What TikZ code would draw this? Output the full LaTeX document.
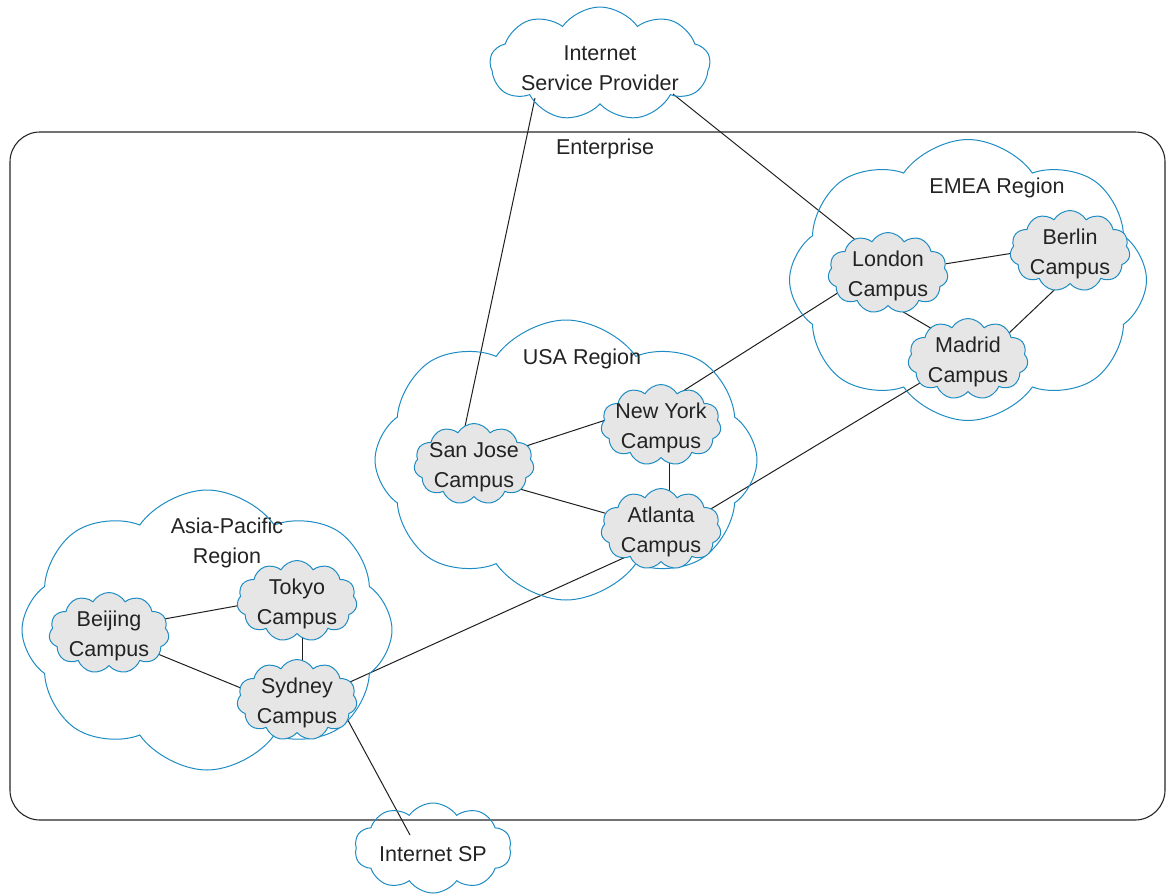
\documentclass[tikz,border=0pt]{standalone}
\usepackage{fontspec}
\setmainfont{Liberation Sans}
\usetikzlibrary{shapes.symbols,backgrounds,calc}
\definecolor{cloudblue}{RGB}{30,140,195}
\definecolor{campusgray}{RGB}{230,230,230}
\definecolor{txt}{RGB}{35,35,35}
\begin{document}
\begin{tikzpicture}[x=1pt,y=-1pt,
  txtstyle/.style={align=center, text=txt, font=\fontsize{21.5}{29.5}\selectfont, inner sep=0pt},
  camplbl/.style={txtstyle, yshift=-3pt},
  region/.style={cloud, cloud puffs=8, cloud puff arc=110, cloud ignores aspect, draw=cloudblue, line width=1pt, inner sep=0pt},
  campus/.style={cloud, cloud puffs=11, cloud puff arc=120, cloud ignores aspect, draw=cloudblue, fill=campusgray, line width=1pt, minimum width=120pt, minimum height=81pt, inner sep=0pt},
  link/.style={line width=1pt, black!88}]
\useasboundingbox (0,0) rectangle (1170,895);

% enterprise boundary
\node (ent) [draw=black!85, line width=1.1pt, rounded corners=30pt, minimum width=1155pt, minimum height=688pt, inner sep=0pt] at (587.5,476) {};
\node (entlbl) [txtstyle] at (605,149) {Enterprise};

% service providers
\node (isp) [region, cloud puffs=9, minimum width=220pt, minimum height=114pt] at (600,64) {};
\node (isplbl) [txtstyle] at (600,68) {Internet\\Service Provider};
\node (isp2) [region, cloud puffs=10, minimum width=157pt, minimum height=90pt] at (433,848) {};
\node (isp2lbl) [txtstyle] at (433,854) {Internet SP};
\coordinate (ispA) at (535,98);
\coordinate (ispB) at (673,94);
\coordinate (ispC) at (410,835);

% regions
\node (emea) [region, minimum width=357pt, minimum height=281pt] at (968,280) {};
\node (emealbl) [txtstyle] at (997,188) {EMEA Region};
\node (usa) [region, minimum width=382pt, minimum height=280pt] at (566,460) {};
\node (usalbl) [txtstyle] at (582,359) {USA Region};
\node (asia) [region, minimum width=370pt, minimum height=280pt] at (207,630) {};
\node (asialbl) [txtstyle] at (227,543) {Asia-Pacific\\Region};

% campuses
\node (london) [campus, label={[camplbl]center:London\\Campus}] at (888,273) {};
\node (berlin) [campus, label={[camplbl]center:Berlin\\Campus}] at (1070,251) {};
\node (madrid) [campus, label={[camplbl]center:Madrid\\Campus}] at (968,359) {};
\node (ny) [campus, label={[camplbl]center:New York\\Campus}] at (661,425) {};
\node (sj) [campus, label={[camplbl]center:San Jose\\Campus}] at (474,464) {};
\node (atl) [campus, label={[camplbl]center:Atlanta\\Campus}] at (661,529) {};
\node (tokyo) [campus, label={[camplbl]center:Tokyo\\Campus}] at (297,601) {};
\node (beijing) [campus, label={[camplbl]center:Beijing\\Campus}] at (109,633) {};
\node (sydney) [campus, label={[camplbl]center:Sydney\\Campus}] at (297,700) {};

% connectors
\begin{pgfonlayer}{background}
\draw[link] (ispA) -- ($(sj)+(-17,0)$);
\draw[link] (ispB) -- ($(london)+(0,-7)$);
\draw[link] (london) -- ($(berlin)+(0,-7)$);
\draw[link] ($(london)+(0,30)$) -- ($(madrid)+(0,-9)$);
\draw[link] ($(berlin)+(0,24)$) -- ($(madrid)+(0,13)$);
\draw[link] ($(london)+(0,-12)$) -- ($(ny)+(0,-20)$);
\draw[link] ($(madrid)+(0,-5)$) -- ($(atl)+(0,10)$);
\draw[link] ($(sj)+(0,-1)$) -- ($(ny)+(0,-23)$);
\draw[link] ($(sj)+(0,12)$) -- (atl);
\draw[link] ($(ny)+(8,0)$) -- ($(atl)+(8,0)$);
\draw[link] ($(atl)+(0,12)$) -- ($(sydney)+(0,6)$);
\draw[link] ($(beijing)+(0,-4)$) -- ($(tokyo)+(0,-6)$);
\draw[link] ($(beijing)+(0,1)$) -- ($(sydney)+(0,11)$);
\draw[link] ($(tokyo)+(5,0)$) -- ($(sydney)+(5,0)$);
\draw[link] ($(sydney)+(40,0)$) -- (ispC);
\end{pgfonlayer}
\end{tikzpicture}
\end{document}
